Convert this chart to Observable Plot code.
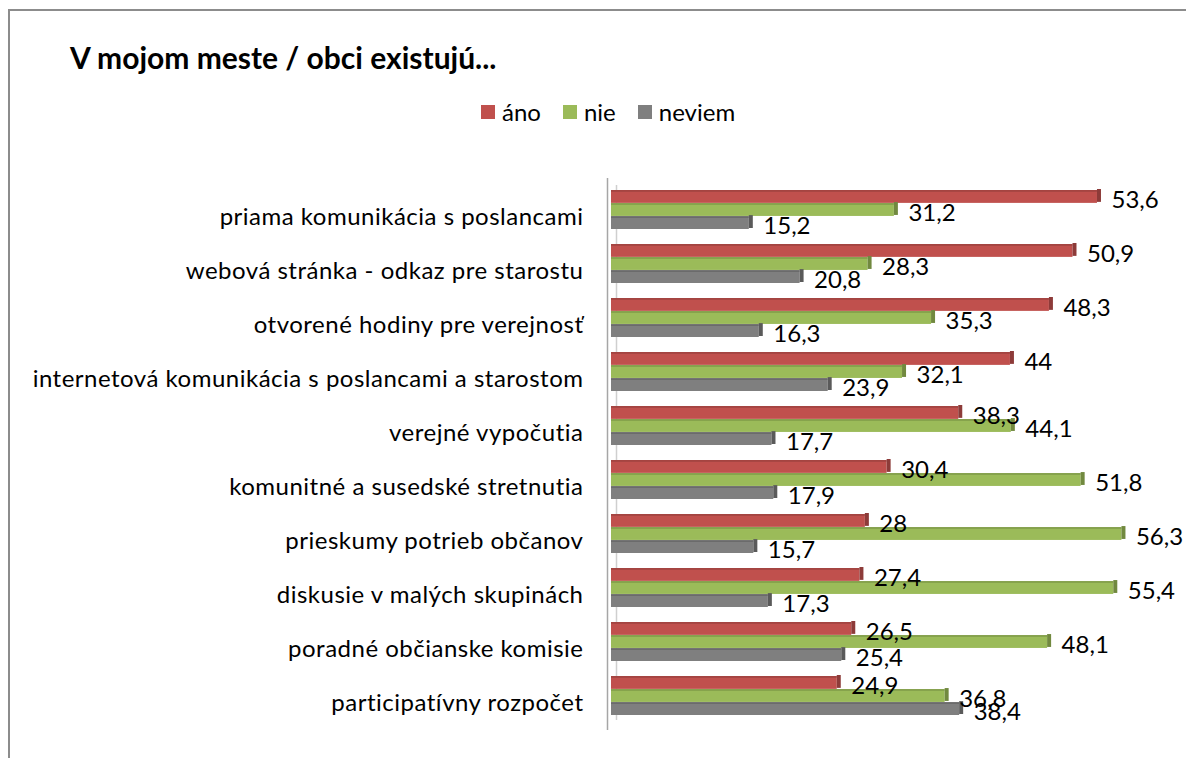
<!DOCTYPE html>
<html><head><meta charset="utf-8">
<script src="https://cdn.jsdelivr.net/npm/d3@7"></script>
<script src="https://cdn.jsdelivr.net/npm/@observablehq/plot@0.6"></script>
<style>
body{margin:0;background:#fff;font-family:Lato,sans-serif;}
#wrap{position:relative;width:1186px;height:758px;overflow:hidden;background:#fff;}
#border{position:absolute;left:8px;top:9px;width:1200px;height:800px;border-left:2px solid #8c8c8c;border-top:2px solid #8c8c8c;}
#title{position:absolute;left:70px;top:38px;font-weight:bold;font-size:30px;line-height:38px;color:#000;}
#legend{position:absolute;top:97px;left:481px;font-size:24px;line-height:30px;color:#000;display:flex;align-items:center;white-space:nowrap;}
#legend .sw{display:inline-block;width:14px;height:14px;margin-right:7px;}
#legend .it{display:flex;align-items:center;margin-right:22px;}
#chart{position:absolute;left:0;top:0;}
#chart g[aria-label="y-axis tick label"] text{letter-spacing:0.5px;}
</style></head>
<body>
<div id="wrap">
  <div id="border"></div>
  <div id="title"></div>
  <div id="legend"></div>
  <div id="chart"></div>
</div>
<script>
const titleText = "V mojom meste / obci existujú...";
const categories = [
  "priama komunikácia s poslancami",
  "webová stránka - odkaz pre starostu",
  "otvorené hodiny pre verejnosť",
  "internetová komunikácia s poslancami a starostom",
  "verejné vypočutia",
  "komunitné a susedské stretnutia",
  "prieskumy potrieb občanov",
  "diskusie v malých skupinách",
  "poradné občianske komisie",
  "participatívny rozpočet"
];
const series = ["áno", "nie", "neviem"];
const ano = [53.6, 50.9, 48.3, 44, 38.3, 30.4, 28, 27.4, 26.5, 24.9];
const nie = [31.2, 28.3, 35.3, 32.1, 44.1, 51.8, 56.3, 55.4, 48.1, 36.8];
const neviem = [15.2, 20.8, 16.3, 23.9, 17.7, 17.9, 15.7, 17.3, 25.4, 38.4];
const colors = ["#c0504d", "#9bbb59", "#7f7f7f"];
const darkColors = ["#8d3b39", "#71893f", "#5a5a5a"];

document.getElementById("title").textContent = titleText;
const leg = document.getElementById("legend");
series.forEach((s, j) => {
  const it = document.createElement("span"); it.className = "it";
  const sw = document.createElement("span"); sw.className = "sw"; sw.style.background = colors[j];
  it.appendChild(sw); it.appendChild(document.createTextNode(s));
  leg.appendChild(it);
});

const values = [ano, nie, neviem];
const data = categories.flatMap((c, i) => series.map((s, j) => ({category: c, series: s, idx: j, value: values[j][i]})));

const W = 1186, H = 758, mT = 187, mB = 40, mL = 611, mR = 31;
const padIn = 0.283;
const step = (H - mT - mB) / (categories.length - padIn);
const bw = step * (1 - padIn);
const sub = bw / 3;

const marks = [
  Plot.ruleX([0], {stroke: "#a6a6a6", strokeWidth: 1.5, dx: -4, insetTop: -9, insetBottom: -12}),
  Plot.ruleX([0], {stroke: "#cfcfcf", strokeWidth: 1.5, dx: 5, insetTop: -2, insetBottom: -2})
];
series.forEach((s, j) => {
  const d = data.filter(r => r.idx === j);
  marks.push(Plot.barX(d, {x: "value", y: "category", fill: colors[j], insetTop: j * sub, insetBottom: (2 - j) * sub}));
  marks.push(Plot.barX(d, {x: "value", y: "category", fill: darkColors[j], fillOpacity: 0.55, insetTop: j * sub, insetBottom: (3 - j) * sub - 2}));
  marks.push(Plot.barX(d, {x1: "value", x2: "value", y: "category", fill: darkColors[j], insetRight: -4, insetTop: j * sub - 1, insetBottom: (2 - j) * sub + 1}));
});
series.forEach((s, j) => {
  const d = data.filter(r => r.idx === j);
  marks.push(Plot.text(d, {x: "value", y: "category", text: r => String(r.value).replace(".", ","), dx: 14, dy: (j - 1) * sub + 3, textAnchor: "start", fontSize: 24, fill: "#000"}));
});
marks.push(Plot.axisY({tickSize: 0, tickPadding: 28, fontSize: 24, dy: 7, label: null, fill: "#000"}));

const chart = Plot.plot({
  width: W, height: H,
  marginTop: mT, marginBottom: mB, marginLeft: mL, marginRight: mR,
  style: {fontFamily: "Lato, sans-serif", fontSize: "24px", background: "transparent", color: "#000", overflow: "visible"},
  x: {domain: [0, 60], axis: null},
  y: {domain: categories, paddingInner: padIn, paddingOuter: 0, axis: null},
  marks
});
document.getElementById("chart").appendChild(chart);
</script>
</body></html>
